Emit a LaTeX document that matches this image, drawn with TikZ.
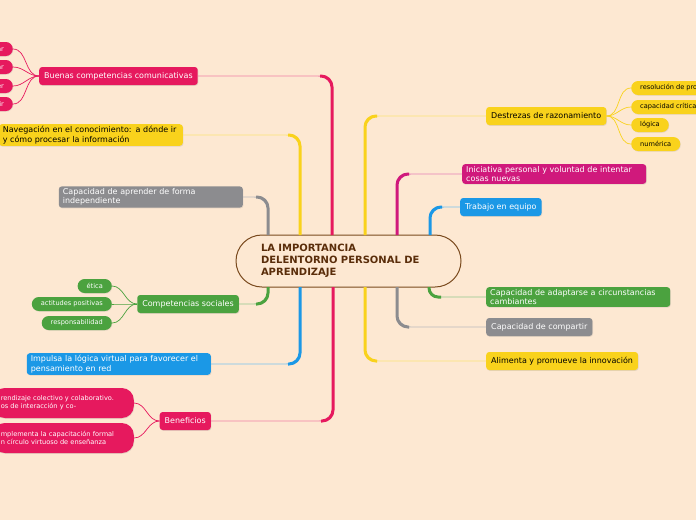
\documentclass[tikz,border=0pt]{standalone}
\usepackage{fontspec}
\setmainfont{DejaVu Sans}
\usepackage{tikz}
\usetikzlibrary{positioning,calc,shadows}
\usepackage{xcolor}

\definecolor{bgpeach}{HTML}{FDE8D2}
\definecolor{mmpink}{HTML}{E6195E}
\definecolor{mmmagenta}{HTML}{D0197C}
\definecolor{mmyellow}{HTML}{F9D21C}
\definecolor{mmgray}{HTML}{8C8C8F}
\definecolor{mmgreen}{HTML}{4BA23F}
\definecolor{mmblue}{HTML}{1B98E6}
\definecolor{mmbrown}{HTML}{7A4A1E}
\definecolor{titletext}{HTML}{5A2D0A}

\begin{document}
\begin{tikzpicture}[
  x=1pt, y=-1pt,
  topic/.style={rounded corners=3pt, minimum height=18pt, inner xsep=5pt, inner ysep=2pt, align=left, text=white,
    font=\fontsize{8}{9.5}\selectfont, drop shadow={opacity=0.2, shadow xshift=0.6pt, shadow yshift=-0.8pt}},
  wide/.style={text width=176pt, inner xsep=4pt},
  sub/.style={rounded corners=7pt, minimum height=14pt, inner xsep=9pt, inner ysep=0pt, text=white,
    font=\fontsize{6.6}{7.5}\selectfont, drop shadow={opacity=0.2, shadow xshift=0.5pt, shadow yshift=-0.7pt}},
  bigsub/.style={rounded corners=12pt, minimum height=30pt, text width=125pt, inner xsep=8pt, align=left, text=white,
    font=\fontsize{6.6}{8.2}\selectfont, drop shadow={opacity=0.2, shadow xshift=0.5pt, shadow yshift=-0.8pt}},
  trunk/.style={line width=3pt, rounded corners=11pt},
  twig/.style={line width=0.9pt, rounded corners=14pt},
  leaf/.style={line width=0.7pt}
]
\useasboundingbox (0,0) rectangle (696,520);
\clip (0,0) rectangle (696,520);
\fill[bgpeach] (0,0) rectangle (696,520);

% central topic
\node[draw=mmbrown, line width=1pt, fill=bgpeach, rounded corners=26pt, minimum height=52pt, text width=175pt,
  inner xsep=25pt, align=left, text=titletext, font=\bfseries\fontsize{10}{12}\selectfont] (center) at (348.5,261)
  {LA IMPORTANCIA\\DELENTORNO PERSONAL DE\\APRENDIZAJE};

\coordinate (lt1) at (268,235);
\coordinate (lt2) at (300,235);
\coordinate (lt3) at (332,235);
\coordinate (lb1) at (268,287);
\coordinate (lb2) at (300,287);
\coordinate (lb3) at (333,287);
\coordinate (rt1) at (365,235);
\coordinate (rt2) at (397,235);
\coordinate (rt3) at (430,235);
\coordinate (rb1) at (429,287);
\coordinate (rb2) at (397,287);
\coordinate (rb3) at (365,287);

% left side
\node[topic, fill=mmpink, anchor=west] (comunic) at (39,76) {Buenas competencias comunicativas};
\node[topic, wide, fill=mmyellow, text=black, anchor=east] (naveg) at (183,135) {Navegación en el conocimiento: a dónde ir\\y cómo procesar la información};
\node[topic, wide, fill=mmgray, anchor=east] (aprender) at (243,197) {Capacidad de aprender de forma\\independiente};
\node[topic, fill=mmgreen, anchor=east] (sociales) at (239,304) {Competencias sociales};
\node[topic, wide, fill=mmblue, anchor=east] (impulsa) at (211,364) {Impulsa la lógica virtual para favorecer el\\pensamiento en red};
\node[topic, fill=mmpink, anchor=east] (benef) at (211,421) {Beneficios};

% right side
\node[topic, fill=mmyellow, text=black, anchor=west] (destrezas) at (486,116) {Destrezas de razonamiento};
\node[topic, wide, fill=mmmagenta, anchor=west] (inicia) at (462,174) {Iniciativa personal y voluntad de intentar\\cosas nuevas};
\node[topic, fill=mmblue, anchor=west] (equipo) at (460,207) {Trabajo en equipo};
\node[topic, wide, fill=mmgreen, anchor=west] (adapta) at (486,297) {Capacidad de adaptarse a circunstancias\\cambiantes};
\node[topic, fill=mmgray, anchor=west] (compartir) at (486,327) {Capacidad de compartir};
\node[topic, fill=mmyellow, text=black, anchor=west] (innova) at (486,361) {Alimenta y promueve la innovación};

% subtopics
\node[sub, fill=mmpink, anchor=east] (escuchar) at (13,49) {escuchar};
\node[sub, fill=mmpink, anchor=east] (hablar) at (13,67) {hablar};
\node[sub, fill=mmpink, anchor=east] (leer) at (13,86) {leer};
\node[sub, fill=mmpink, anchor=east] (escribir) at (13,104) {escribir};

\node[sub, fill=mmgreen, anchor=east] (etica) at (112,286) {ética};
\node[sub, fill=mmgreen, anchor=east] (actitudes) at (112,304) {actitudes positivas};
\node[sub, fill=mmgreen, anchor=east] (respons) at (112,323) {responsabilidad};

\node[bigsub, fill=mmpink, anchor=east] (colectivo) at (134,403) {rendizaje colectivo y colaborativo.\\os de interacción y co-};
\node[bigsub, fill=mmpink, anchor=east] (capacita) at (134,438) {mplementa la capacitación formal\\n círculo virtuoso de enseñanza};

\node[sub, fill=mmyellow, text=black, anchor=west] (resol) at (631,88) {resolución de problemas};
\node[sub, fill=mmyellow, text=black, anchor=west] (critica) at (631,107) {capacidad crítica};
\node[sub, fill=mmyellow, text=black, anchor=west] (logica) at (631,125) {lógica};
\node[sub, fill=mmyellow, text=black, anchor=west] (numerica) at (631,144) {numérica};

% branches
\draw[twig, mmgray!60] (lt1) |- (aprender.east);
\draw[trunk, mmgray] (lt1) |- ($(lt1 |- aprender.east)+(-12,0)$);
\draw[twig, mmyellow!60] (lt2) |- (naveg.east);
\draw[trunk, mmyellow] (lt2) |- ($(lt2 |- naveg.east)+(-12,0)$);
\draw[twig, mmpink!55] (lt3) |- (comunic.east);
\draw[trunk, mmpink] (lt3) |- ($(lt3 |- comunic.east)+(-12,0)$);
\draw[twig, mmgreen!60] (lb1) |- (sociales.east);
\draw[trunk, mmgreen] (lb1) |- ($(lb1 |- sociales.east)+(-12,0)$);
\draw[twig, mmblue!60] (lb2) |- (impulsa.east);
\draw[trunk, mmblue] (lb2) |- ($(lb2 |- impulsa.east)+(-12,0)$);
\draw[twig, mmpink!55] (lb3) |- (benef.east);
\draw[trunk, mmpink] (lb3) |- ($(lb3 |- benef.east)+(-12,0)$);

\draw[twig, mmyellow!60] (rt1) |- (destrezas.west);
\draw[trunk, mmyellow] (rt1) |- ($(rt1 |- destrezas.west)+(12,0)$);
\draw[twig, mmmagenta!55] (rt2) |- (inicia.west);
\draw[trunk, mmmagenta] (rt2) |- ($(rt2 |- inicia.west)+(12,0)$);
\draw[twig, mmblue!60] (rt3) |- (equipo.west);
\draw[trunk, mmblue] (rt3) |- ($(rt3 |- equipo.west)+(12,0)$);
\draw[twig, mmgreen!60, rounded corners=9pt] (rb1) |- (adapta.west);
\draw[trunk, mmgreen, rounded corners=9pt] (rb1) |- ($(rb1 |- adapta.west)+(12,0)$);
\draw[twig, mmgray!60] (rb2) |- (compartir.west);
\draw[trunk, mmgray] (rb2) |- ($(rb2 |- compartir.west)+(12,0)$);
\draw[twig, mmyellow!60] (rb3) |- (innova.west);
\draw[trunk, mmyellow] (rb3) |- ($(rb3 |- innova.west)+(12,0)$);

% leaves
\draw[leaf, mmpink] (comunic.west) to[out=180,in=0] (escuchar.east);
\draw[leaf, mmpink] (comunic.west) to[out=180,in=0] (hablar.east);
\draw[leaf, mmpink] (comunic.west) to[out=180,in=0] (leer.east);
\draw[leaf, mmpink] (comunic.west) to[out=180,in=0] (escribir.east);
\draw[leaf, mmgreen] (sociales.west) to[out=180,in=0] (etica.east);
\draw[leaf, mmgreen] (sociales.west) to[out=180,in=0] (actitudes.east);
\draw[leaf, mmgreen] (sociales.west) to[out=180,in=0] (respons.east);
\draw[leaf, mmpink] (benef.west) to[out=180,in=0] (colectivo.east);
\draw[leaf, mmpink] (benef.west) to[out=180,in=0] (capacita.east);
\draw[leaf, mmyellow] (destrezas.east) to[out=0,in=180] (resol.west);
\draw[leaf, mmyellow] (destrezas.east) to[out=0,in=180] (critica.west);
\draw[leaf, mmyellow] (destrezas.east) to[out=0,in=180] (logica.west);
\draw[leaf, mmyellow] (destrezas.east) to[out=0,in=180] (numerica.west);
\end{tikzpicture}
\end{document}
